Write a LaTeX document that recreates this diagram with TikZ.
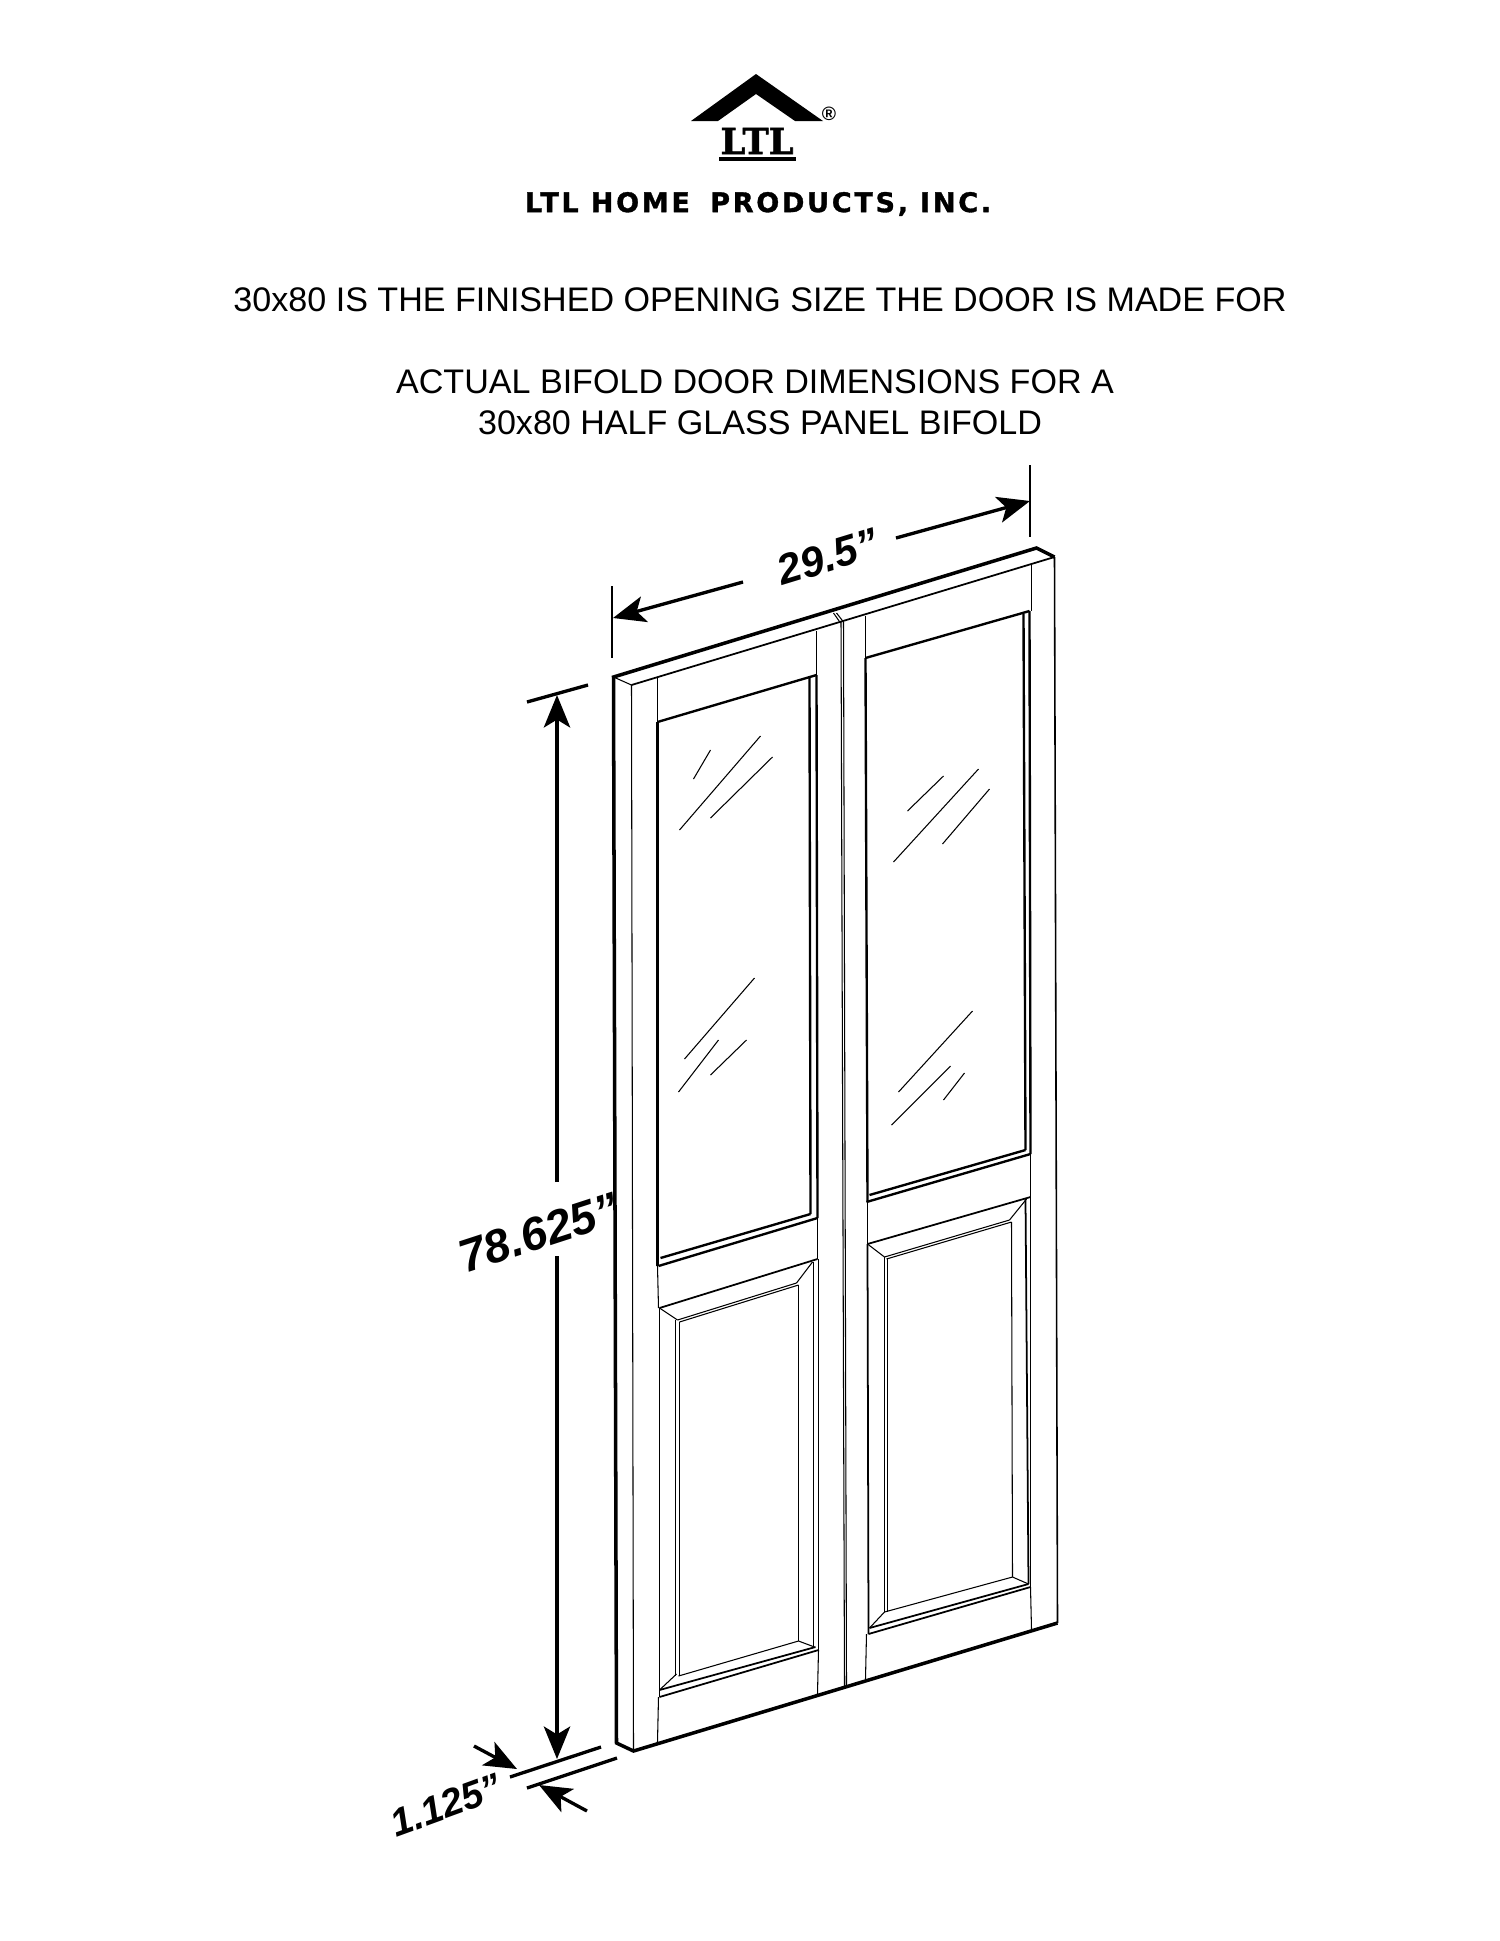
\documentclass[tikz,border=0pt]{standalone}
\usepackage{fontspec}
\setmainfont{Liberation Sans}
\newfontfamily\logofont{DejaVu Sans}[LetterSpace=10,FakeBold=1.2]
\newfontfamily\markfont{DejaVu Serif}[FakeBold=1.5]
\usetikzlibrary{arrows.meta}
\tikzset{
 thickln/.style={black,line width=2pt},
 medln/.style={black,line width=1.35pt},
 panelln/.style={black,line width=1pt},
 thinln/.style={black,line width=.6pt},
 glare/.style={black,line width=.6pt},
 dimln/.style={black,line width=1.9pt},
 dimtip/.style={-{Stealth[length=18.5pt,width=15pt,inset=4.5pt]},line width=1.9pt},
 heading/.style={font=\fontsize{19.4}{23}\selectfont},
 dimlabel/.style={font=\fontsize{#1}{#1}\selectfont\bfseries\itshape,inner sep=0pt},
}
\begin{document}
\begin{tikzpicture}[x=.02cm,y=-.02cm]
\useasboundingbox (0,0) rectangle (1500,1941);
\fill[black] (756,74)--(823,121)--(795,121)--(756,94)--(718,121)--(691,121)--cycle;
\node[inner sep=0pt,font=\fontsize{11}{11}\selectfont\bfseries] (regmark) at (829,114) {®};
\node[inner sep=0pt,font=\markfont\fontsize{20.5}{21}\selectfont\bfseries,xscale=.98,transform shape] (ltlmark) at (757,141) {LTL};
\fill[black] (719,157) rectangle (796,161);
\node[inner sep=0pt,font=\logofont\fontsize{15.4}{16}\selectfont\bfseries] (company) at (758,204) {LTL HOME\hspace{.3em} PRODUCTS, INC.};

\node[heading,inner sep=0pt] (titleone) at (760,300) {30x80 IS THE FINISHED OPENING SIZE THE DOOR IS MADE FOR};
\node[heading,inner sep=0pt] (titletwo) at (755,382) {ACTUAL BIFOLD DOOR DIMENSIONS FOR A};
\node[heading,inner sep=0pt] (titlethree) at (760,423) {30x80 HALF GLASS PANEL BIFOLD};

\begin{scope}[shift={(1.5,0)}]
\draw[thickln,line join=miter] (1053,557)--(1035,548)--(612,677)--(615,1743)--(632,1751)--(1056,1623);
\draw[thinln,line width=.9pt] (1053,557)--(1056,1623);
\draw[thinln] (612,677)--(630,685)--(632,1751);
\draw[panelln] (630,685)--(1053,557);

\draw[thinln] (656,678)--(656,722);
\draw[medln] (656,722)--(656,1266);
\draw[thinln] (656,1266)--(657,1308);
\draw[panelln] (658,1308)--(658,1697);
\draw[thinln] (657,1697)--(656,1742);
\draw[thinln] (815,631)--(815,675);
\draw[medln] (815,675)--(816,1218);
\draw[thinln] (816,1218)--(816,1259);
\draw[panelln] (817,1259)--(817,1650);
\draw[thinln] (817,1650)--(816,1694);
\draw[medln] (808,678)--(809,1214);

\draw[thinln] (832,613)--(839,623) (835,613)--(842,622);
\draw[thinln] (839.5,622)--(843,1687) (842,622)--(845,1685);

\draw[thinln] (864,616)--(864,658);
\draw[medln] (864,658)--(866,1202);
\draw[thinln] (866,1202)--(866,1244);
\draw[panelln] (866,1244)--(867,1634);
\draw[thinln] (865,1634)--(864,1679);
\draw[thinln] (1030,565)--(1030,611);
\draw[medln] (1028,611)--(1029,1154);
\draw[thinln] (1029,1154)--(1029,1197);
\draw[panelln] (1029,1197)--(1029,1587);
\draw[thinln] (1029,1587)--(1030,1629);
\draw[medln] (1022,614)--(1024,1150);

\draw[medln] (656,722)--(815,675) (864,658)--(1028,611);
\draw[medln] (657,1266)--(816,1218) (865,1202)--(1029,1154);
\draw[medln] (659,1258)--(809,1214) (868,1195)--(1024,1150);

\foreach \from/\to in {{692,779}/{709,750},{678,830}/{759,736},{709,818}/{771,757},
 {906,811}/{942,776},{892,862}/{977,769},{941,844}/{988,789},
 {683,1059}/{753,978},{677,1092}/{717,1040},{709,1075}/{745,1040},
 {897,1092}/{971,1011},{890,1125}/{949,1066},{942,1100}/{963,1073}} {
 \draw[glare] (\from)--(\to);
}

\draw[panelln] (658,1308)--(816,1259);
\draw[thinln] (676,1320)--(795,1283) (678,1322)--(797,1285);
\draw[thinln] (658,1308)--(676,1320) (811,1262)--(795,1283);
\draw[thinln] (674,1320)--(674,1676) (678,1322)--(678,1676);
\draw[thinln] (797,1285)--(797,1641);
\draw[panelln] (812,1262)--(812,1647);
\draw[thinln] (677,1676)--(797,1641);
\draw[thinln] (658,1690)--(675,1674) (797,1641)--(813,1647);
\draw[panelln] (658,1690)--(814,1647) (658,1697)--(817,1650);

\draw[panelln] (866,1244)--(1029,1197);
\draw[thinln] (883,1257)--(1008,1220) (885,1259)--(1010,1222);
\draw[thinln] (866,1244)--(883,1257) (1025,1199)--(1008,1220);
\draw[thinln] (883,1257)--(883,1612) (886,1259)--(886,1612);
\draw[thinln] (1010,1222)--(1011,1577);
\draw[panelln] (1024,1199)--(1027,1584);
\draw[thinln] (883,1612)--(1011,1577);
\draw[thinln] (868,1628)--(883,1612) (1011,1577)--(1027,1584);
\draw[panelln] (868,1628)--(1027,1584) (867,1634)--(1029,1587);
\end{scope}

\coordinate (hgttop) at (557,695);
\coordinate (hgtbot) at (557,1759);
\coordinate (hgtup) at (557,1182);
\coordinate (hgtdown) at (557,1256);
\draw[dimln] (527,702)--(588,685);
\draw[dimtip] (hgtup)--(hgttop);
\draw[dimtip] (hgtdown)--(hgtbot);
\node[dimlabel=26.4,rotate=18] (hgtlabel) at (539,1233) {78.625”};

\coordinate (widleft) at (613,618);
\coordinate (widright) at (1030,501);
\coordinate (widstartl) at (743,582);
\coordinate (widstartr) at (896,538);
\draw[thinln,line width=1pt] (612,586)--(612,658);
\draw[thinln,line width=1pt] (1030,465)--(1030,537);
\draw[dimtip] (widstartl)--(widleft);
\draw[dimtip] (widstartr)--(widright);
\node[dimlabel=24,rotate=17] (widlabel) at (828,557) {29.5”};

\draw[dimln] (510,1777)--(601,1747);
\draw[dimln] (527,1788)--(617,1758);
\coordinate (thkone) at (517,1769);
\coordinate (thktwo) at (539,1785);
\draw[dimtip] (474,1746)--(thkone);
\draw[dimtip] (587,1811)--(thktwo);
\node[dimlabel=22,rotate=20] (thklabel) at (446,1805) {1.125”};
\end{tikzpicture}
\end{document}
